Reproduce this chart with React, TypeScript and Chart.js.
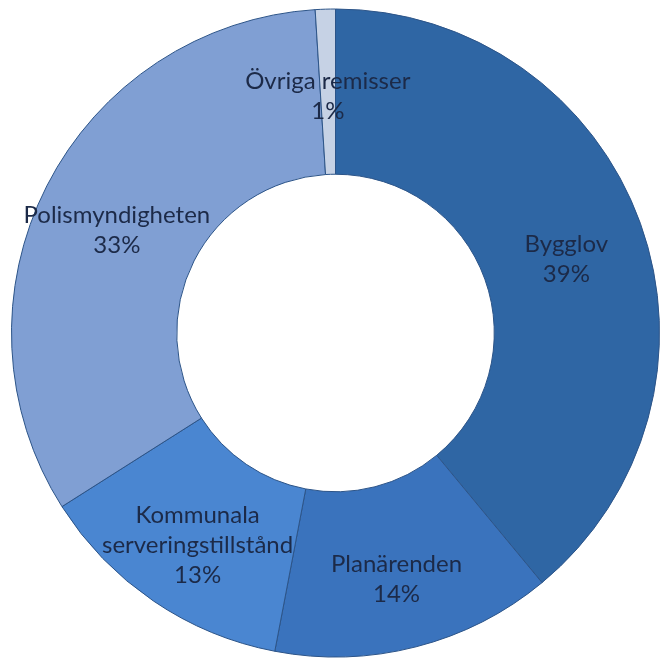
import React, { useEffect, useRef } from "react";
import { Chart, registerables } from "chart.js";

Chart.register(...registerables);

const categories = ["Bygglov", "Planärenden", "Kommunala serveringstillstånd", "Polismyndigheten", "Övriga remisser"];
const values = [39, 14, 13, 33, 1];
const percentLabels = ["39%", "14%", "13%", "33%", "1%"];
const sliceColors = ["#2f66a4", "#3a73bd", "#4a86d1", "#809fd3", "#c6d2e5"];

const labelPlugin = {
  id: "sliceLabels",
  afterDatasetsDraw(chart: any) {
    const ctx = chart.ctx;
    const meta = chart.getDatasetMeta(0);
    ctx.save();
    ctx.font = "24px Lato";
    ctx.fillStyle = "#1c2a48";
    ctx.textAlign = "center";
    ctx.textBaseline = "middle";
    meta.data.forEach((arc: any, i: number) => {
      const p = arc.getProps(["x", "y", "startAngle", "endAngle", "innerRadius", "outerRadius"], true);
      const mid = (p.startAngle + p.endAngle) / 2;
      const r = (p.innerRadius + p.outerRadius) / 2 + 4;
      const cx = p.x + Math.cos(mid) * r;
      const cy = p.y + Math.sin(mid) * r + 9;
      const words = categories[i].split(" ");
      const lines: string[] = [];
      let cur = "";
      words.forEach((w) => {
        const test = cur ? cur + " " + w : w;
        if (cur && ctx.measureText(test).width > 200) {
          lines.push(cur);
          cur = w;
        } else cur = test;
      });
      lines.push(cur);
      lines.push(percentLabels[i]);
      const lh = 30;
      const top = cy - ((lines.length - 1) * lh) / 2;
      lines.forEach((t, k) => ctx.fillText(t, cx, top + k * lh));
    });
    ctx.restore();
  },
};

export default function App() {
  const ref = useRef<HTMLCanvasElement>(null);
  useEffect(() => {
    if (!ref.current) return;
    const chart = new Chart(ref.current, {
      type: "doughnut",
      data: {
        labels: categories,
        datasets: [
          {
            data: values,
            backgroundColor: sliceColors,
            borderColor: "#2c5488",
            borderWidth: 1,
          },
        ],
      },
      options: {
        animation: false,
        responsive: false,
        cutout: "49%",
        layout: { padding: { left: 11, right: 3, top: 8, bottom: 8 } },
        plugins: { legend: { display: false }, tooltip: { enabled: false } },
      },
      plugins: [labelPlugin],
    });
    return () => chart.destroy();
  }, []);
  return (
    <div style={{ position: "absolute", left: 0, top: 0, width: 663, height: 666, background: "#fff" }}>
      <canvas ref={ref} width={663} height={666} style={{ width: 663, height: 666 }} />
    </div>
  );
}
